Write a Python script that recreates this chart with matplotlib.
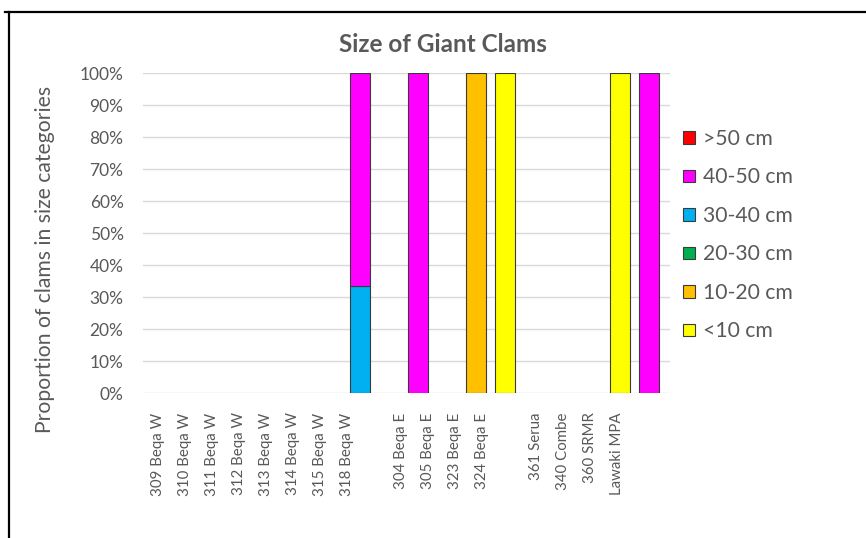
import matplotlib
matplotlib.use("Agg")
import matplotlib.pyplot as plt
from matplotlib.patches import Patch
from matplotlib.lines import Line2D
import numpy as np

plt.rcParams['font.family'] = ['Lato', 'DejaVu Sans']

# Sites along the category axis ("" = spacer between regions)
sites = ["309 Beqa W", "310 Beqa W", "311 Beqa W", "312 Beqa W", "313 Beqa W",
         "314 Beqa W", "315 Beqa W", "318 Beqa W", "",
         "304 Beqa E", "305 Beqa E", "323 Beqa E", "324 Beqa E", "",
         "361 Serua", "340 Combe", "360 SRMR", "Lawaki MPA"]

# Proportion of clams in each size class per site (%)
lt10   = [0, 0, 0, 0, 0, 0, 0, 0,      0, 0,   0, 0,   100, 0, 0, 0, 100, 0]
s10_20 = [0, 0, 0, 0, 0, 0, 0, 0,      0, 0,   0, 100, 0,   0, 0, 0, 0,   0]
s20_30 = [0, 0, 0, 0, 0, 0, 0, 0,      0, 0,   0, 0,   0,   0, 0, 0, 0,   0]
s30_40 = [0, 0, 0, 0, 0, 0, 0, 33.3,   0, 0,   0, 0,   0,   0, 0, 0, 0,   0]
s40_50 = [0, 0, 0, 0, 0, 0, 0, 66.7,   0, 100, 0, 0,   0,   0, 0, 0, 0,   100]
gt50   = [0, 0, 0, 0, 0, 0, 0, 0,      0, 0,   0, 0,   0,   0, 0, 0, 0,   0]

size_classes = ["<10 cm", "10-20 cm", "20-30 cm", "30-40 cm", "40-50 cm", ">50 cm"]
class_values = [lt10, s10_20, s20_30, s30_40, s40_50, gt50]
class_colors = ["#FFFF00", "#FFC000", "#00B050", "#00B0F0", "#FF00FF", "#FF0000"]

title = "Size of Giant Clams"
ylabel = "Proportion of clams in size categories"

W, H = 866, 538
fig = plt.figure(figsize=(W / 100, H / 100), dpi=100)
fig.patch.set_facecolor("white")

L, R, T, B = 143, 670, 73, 393
ax = fig.add_axes([L / W, 1 - B / H, (R - L) / W, (B - T) / H])

x = np.arange(len(sites))
bottom = np.zeros(len(sites))
for vals, col in zip(class_values, class_colors):
    v = np.array(vals, dtype=float)
    mask = v > 0
    ax.bar(x[mask], v[mask], bottom=bottom[mask], width=0.69, color=col,
           edgecolor="#3a3a3a", linewidth=0.8, zorder=3)
    bottom += v

ax.set_xlim(-0.52, 17.72)
ax.set_ylim(0, 100)
ax.set_yticks(np.arange(0, 101, 10))
ax.set_yticklabels([f"{v}%" for v in range(0, 101, 10)])
ax.yaxis.grid(True, color="#D9D9D9", linewidth=1.0, zorder=0)
ax.set_axisbelow(True)
for sp in ax.spines.values():
    sp.set_visible(False)
ax.tick_params(axis="y", length=0, pad=14, labelsize=12.5, labelcolor="#595959")

# Category labels on their own scale along the bottom
axl = ax.twiny()
axl.set_xlim(-0.556, 18.96)
axl.xaxis.set_ticks_position("bottom")
axl.set_xticks([i for i, s in enumerate(sites) if s])
axl.set_xticklabels([s for s in sites if s], rotation=90, va="top", ha="center")
axl.tick_params(axis="x", which="both", length=0, top=False, pad=14,
                labelsize=10.8, labelcolor="#595959")
for sp in axl.spines.values():
    sp.set_visible(False)
ax.set_xticks([])
ax.tick_params(axis="x", which="both", bottom=False, top=False,
               labelbottom=False)

ax.set_ylabel(ylabel, fontsize=15.2, color="#595959")
ax.yaxis.set_label_coords((55 - L) / (R - L), (B - 259) / (B - T))

fig.text(443 / W, 1 - 45 / H, title, ha="center", va="center",
         fontsize=17.5, fontweight="bold", color="#595959")

handles = [Patch(facecolor=c, edgecolor="#3a3a3a", linewidth=0.8, label=l)
           for l, c in zip(size_classes, class_colors)][::-1]
fig.legend(handles=handles, loc="upper left",
           bbox_to_anchor=(664 / W, 1 - 110 / H), frameon=False,
           fontsize=15.2, labelcolor="#595959", handlelength=0.55,
           handleheight=0.55, handletextpad=0.4, labelspacing=0.875)

# Sheet frame
fig.add_artist(Line2D([5 / W, 1], [1 - 12 / H, 1 - 12 / H], color="black",
                      linewidth=1.6, transform=fig.transFigure))
fig.add_artist(Line2D([9 / W, 9 / W], [0, 1 - 12 / H], color="black",
                      linewidth=1.6, transform=fig.transFigure))

fig.savefig("out.png", dpi=100)
